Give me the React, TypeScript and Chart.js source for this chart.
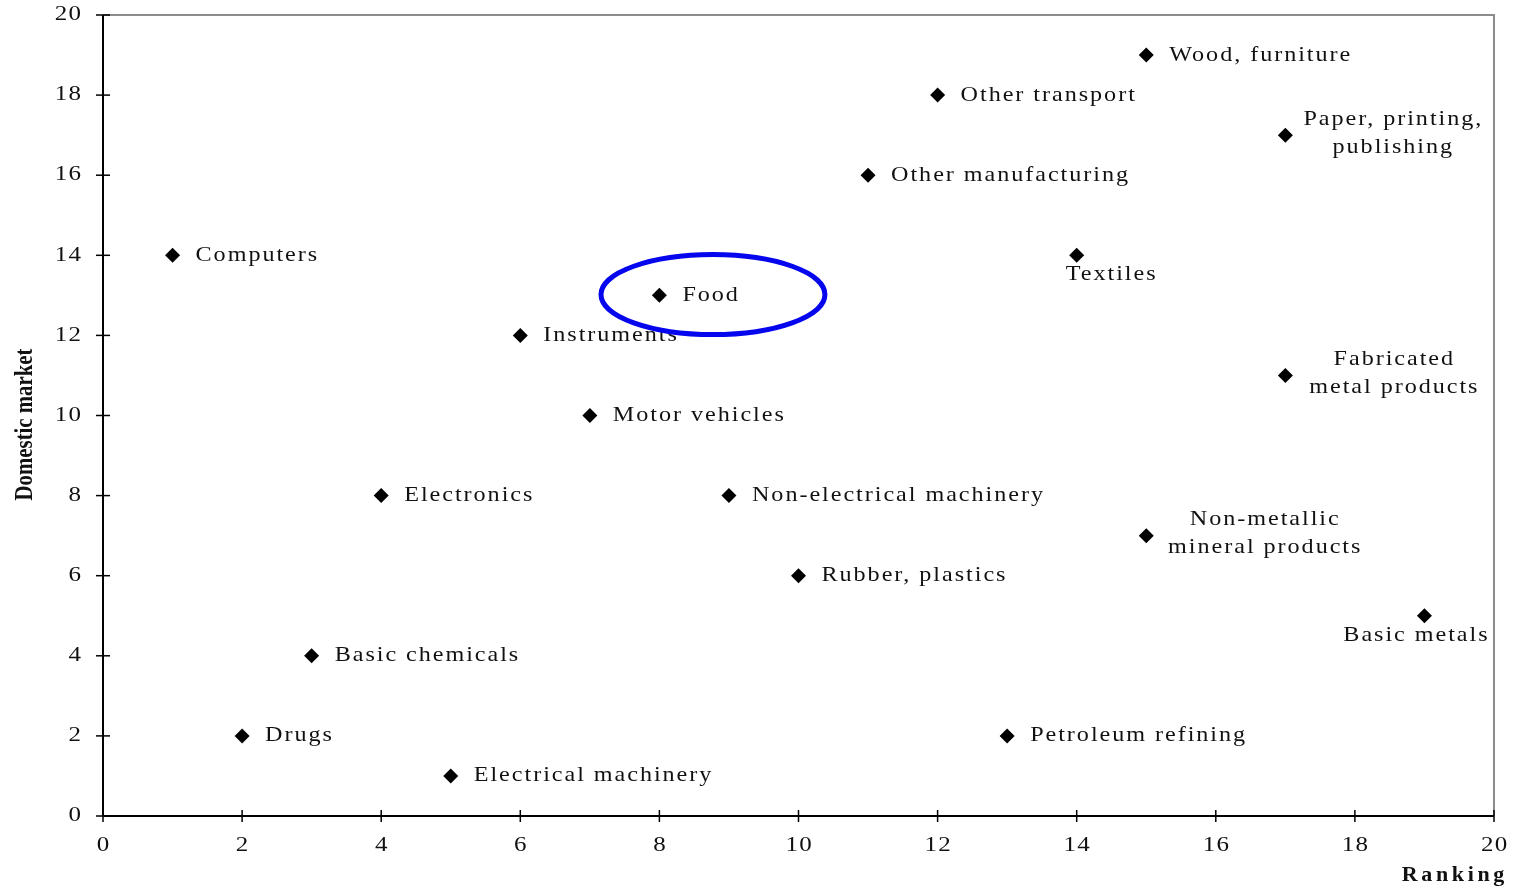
import React, { useEffect, useRef } from "react";
import { Chart, registerables } from "chart.js";

Chart.register(...registerables);

// ---- data ----
const industries: string[] = [
  "Computers",
  "Drugs",
  "Basic chemicals",
  "Electronics",
  "Electrical machinery",
  "Instruments",
  "Motor vehicles",
  "Food",
  "Non-electrical machinery",
  "Rubber, plastics",
  "Other manufacturing",
  "Other transport",
  "Petroleum refining",
  "Textiles",
  "Wood, furniture",
  "Non-metallic\nmineral products",
  "Paper, printing,\npublishing",
  "Fabricated\nmetal products",
  "Basic metals",
];
const rankingValues: number[] = [1, 2, 3, 4, 5, 6, 7, 8, 9, 10, 11, 12, 13, 14, 15, 15, 17, 17, 19];
const domesticValues: number[] = [14, 2, 4, 8, 1, 12, 10, 13, 8, 6, 16, 18, 2, 14, 19, 7, 17, 11, 5];
const xTickLabels: number[] = [0, 2, 4, 6, 8, 10, 12, 14, 16, 18, 20];
const yTickLabels: number[] = [0, 2, 4, 6, 8, 10, 12, 14, 16, 18, 20];
const xAxisTitle = "Ranking";
const yAxisTitle = "Domestic market";
// highlighted region (data units): centre and radii of the ellipse around "Food"
const highlightCentre = { x: 8.77, y: 13.02 };
const highlightRadius = { x: 1.61, y: 1.0 };

// ---- label placement styles (not data) ----
type Placement = { dx: number; dy: number; align: CanvasTextAlign; lineGap?: number };
const defaultPlacement: Placement = { dx: 23, dy: 0, align: "left" };
const placements: Record<string, Placement> = {
  Textiles: { dx: 34, dy: 19, align: "center" },
  "Basic metals": { dx: -9, dy: 20, align: "center" },
  "Paper, printing,\npublishing": { dx: 107, dy: -2, align: "center", lineGap: 28 },
  "Fabricated\nmetal products": { dx: 108, dy: -2, align: "center", lineGap: 28 },
  "Non-metallic\nmineral products": { dx: 118, dy: -2, align: "center", lineGap: 28 },
};

const LABEL_FONT = '21px "Liberation Serif", "Times New Roman", serif';
const TICK_FONT = '20px "Liberation Serif", "Times New Roman", serif';
const TEXT_COLOR = "#111111";

function drawText(
  ctx: CanvasRenderingContext2D,
  text: string,
  x: number,
  y: number,
  font: string,
  align: CanvasTextAlign,
  sx: number,
  spacing: number,
  rotate = 0
) {
  ctx.save();
  ctx.font = font;
  (ctx as any).letterSpacing = spacing + "px";
  ctx.fillStyle = TEXT_COLOR;
  ctx.textBaseline = "middle";
  ctx.textAlign = "left";
  ctx.translate(x, y);
  if (rotate) ctx.rotate(rotate);
  ctx.scale(sx, 1);
  const w = ctx.measureText(text).width - spacing;
  let ox = 0;
  if (align === "center") ox = -w / 2;
  else if (align === "right") ox = -w;
  ctx.fillText(text, ox, 0);
  ctx.restore();
}

const decorPlugin = {
  id: "decor",
  afterDraw(chart: any) {
    const ctx: CanvasRenderingContext2D = chart.ctx;
    const { left, right, top, bottom } = chart.chartArea;
    const xs = chart.scales.x;
    const ys = chart.scales.y;

    // frame: gray top / right, black left / bottom
    ctx.save();
    ctx.lineWidth = 2;
    ctx.strokeStyle = "#8c8c8c";
    ctx.beginPath();
    ctx.moveTo(left, top);
    ctx.lineTo(right, top);
    ctx.lineTo(right, bottom);
    ctx.stroke();
    ctx.strokeStyle = "#000";
    ctx.beginPath();
    ctx.moveTo(left, top);
    ctx.lineTo(left, bottom);
    ctx.lineTo(right, bottom);
    ctx.stroke();

    // tick marks crossing the axes
    ctx.lineWidth = 1.5;
    xTickLabels.forEach((v) => {
      const px = xs.getPixelForValue(v);
      ctx.beginPath();
      ctx.moveTo(px, bottom - 6);
      ctx.lineTo(px, bottom + 6);
      ctx.stroke();
    });
    yTickLabels.forEach((v) => {
      const py = ys.getPixelForValue(v);
      ctx.beginPath();
      ctx.moveTo(left - 7, py);
      ctx.lineTo(left + 7, py);
      ctx.stroke();
    });
    ctx.restore();

    // tick labels
    xTickLabels.forEach((v) => {
      drawText(ctx, String(v), xs.getPixelForValue(v), bottom + 30, TICK_FONT, "center", 1.25, 1);
    });
    yTickLabels.forEach((v) => {
      drawText(ctx, String(v), left - 22, ys.getPixelForValue(v), TICK_FONT, "right", 1.25, 1);
    });

    // axis titles
    drawText(
      ctx,
      yAxisTitle,
      25,
      (top + bottom) / 2 + 9,
      'bold 26px "Liberation Serif", "Times New Roman", serif',
      "center",
      0.8,
      0,
      -Math.PI / 2
    );
    drawText(
      ctx,
      xAxisTitle,
      1453,
      bottom + 60,
      'bold 20px "Liberation Serif", "Times New Roman", serif',
      "center",
      1.1,
      3.3
    );

    // point labels
    industries.forEach((name, i) => {
      const px = xs.getPixelForValue(rankingValues[i]);
      const py = ys.getPixelForValue(domesticValues[i]);
      const p = placements[name] || defaultPlacement;
      const lines = name.split("\n");
      const gap = p.lineGap || 0;
      lines.forEach((ln, k) => {
        const ly = py + p.dy + (k - (lines.length - 1) / 2) * gap;
        drawText(ctx, ln, px + p.dx, ly, LABEL_FONT, p.align, 1.15, 1.7);
      });
    });

    // highlight ellipse
    const cx = xs.getPixelForValue(highlightCentre.x);
    const cy = ys.getPixelForValue(highlightCentre.y);
    const rx = Math.abs(xs.getPixelForValue(highlightCentre.x + highlightRadius.x) - cx);
    const ry = Math.abs(ys.getPixelForValue(highlightCentre.y + highlightRadius.y) - cy);
    ctx.save();
    ctx.strokeStyle = "#0505ee";
    ctx.lineWidth = 5;
    ctx.beginPath();
    ctx.ellipse(cx, cy, rx, ry, 0, 0, Math.PI * 2);
    ctx.stroke();
    ctx.restore();
  },
};

export default function App() {
  const ref = useRef<HTMLCanvasElement | null>(null);
  useEffect(() => {
    document.body.style.margin = "0";
    document.body.style.overflow = "hidden";
    if (!ref.current) return;
    const chart = new Chart(ref.current, {
      type: "scatter",
      data: {
        datasets: [
          {
            data: rankingValues.map((x, i) => ({ x, y: domesticValues[i] })),
            pointStyle: "rectRot",
            pointRadius: 7.5,
            backgroundColor: "#000",
            borderColor: "#000",
            borderWidth: 0,
          },
        ],
      },
      options: {
        responsive: false,
        animation: false,
        devicePixelRatio: 1,
        layout: { padding: { left: 0, top: 15, right: 22, bottom: 0 } },
        plugins: { legend: { display: false }, tooltip: { enabled: false } },
        scales: {
          x: {
            type: "linear",
            min: 0,
            max: 20,
            ticks: { display: false, stepSize: 2 },
            grid: { display: false },
            border: { display: false },
            afterFit: (s: any) => {
              s.height = 74;
            },
          },
          y: {
            type: "linear",
            min: 0,
            max: 20,
            ticks: { display: false, stepSize: 2 },
            grid: { display: false },
            border: { display: false },
            afterFit: (s: any) => {
              s.width = 103;
            },
          },
        },
      },
      plugins: [decorPlugin],
    });
    return () => chart.destroy();
  }, []);
  return (
    <div style={{ width: 1516, height: 890, background: "#fff" }}>
      <canvas ref={ref} width={1516} height={890} style={{ display: "block" }} />
    </div>
  );
}
